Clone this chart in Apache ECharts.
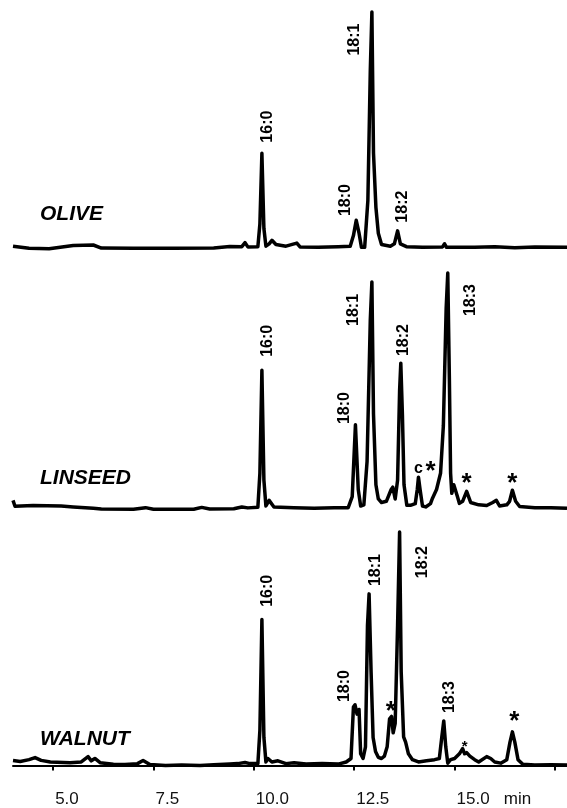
<!DOCTYPE html>
<html>
<head>
<meta charset="utf-8">
<script src="https://cdn.jsdelivr.net/npm/echarts@6/dist/echarts.min.js"></script>
<style>
  html, body { margin: 0; padding: 0; background: #fff; }
  #chart { width: 567px; height: 808px; }
</style>
</head>
<body>
<div id="chart"></div>
<script>
// retention time (min) and signal (0..100, tallest peak of each trace = 100)
const oliveTrace = [
  [4.00, 0.5], [4.40, -0.4], [4.90, -0.6], [5.50, 0.8], [6.00, 1.0], [6.20, -0.3],
  [7.00, -0.4], [8.00, -0.4], [9.00, -0.3], [9.40, 0.4], [9.70, 0.3], [9.78, 2.0],
  [9.85, 0.2], [10.10, 0.3], [10.15, 10], [10.20, 40], [10.25, 8], [10.30, 0.5],
  [10.38, 1.5], [10.45, 3.0], [10.55, 1.2], [10.80, 0.5], [11.07, 1.8], [11.15, 0.2],
  [11.60, 0.0], [12.10, 0.3], [12.40, 0.5], [12.48, 5], [12.55, 11.5], [12.62, 6],
  [12.68, 0.0], [12.76, 0.0], [12.84, 20], [12.90, 75], [12.94, 100], [12.98, 40],
  [13.04, 17], [13.10, 6], [13.18, 1.2], [13.40, 0.5], [13.50, 1.5], [13.58, 7],
  [13.65, 1.5], [13.80, 0.3], [14.20, 0.0], [14.70, 0.2], [14.75, 1.5], [14.80, 0.0],
  [15.50, 0.0], [16.00, 0.3], [16.50, -0.2], [17.00, 0.2], [17.80, 0.0]
]
const linseedTrace = [
  [4.00, 3.4], [4.05, 0.9], [4.50, 1.2], [5.20, 1.0], [5.50, 0.6], [6.00, 0.0],
  [6.20, -0.3], [7.00, -0.4], [7.30, 0.3], [7.50, -0.4], [8.50, -0.4], [8.70, 0.4],
  [8.90, -0.3], [9.50, -0.2], [9.70, 0.6], [9.85, 0.2], [10.10, 0.5], [10.15, 15],
  [10.20, 58.7], [10.25, 12], [10.30, 1.0], [10.38, 3.4], [10.50, 0.6], [11.00, 0.3],
  [11.50, 0.0], [12.00, 0.3], [12.35, 0.3], [12.45, 5], [12.53, 35.5], [12.60, 8],
  [12.66, 1.0], [12.74, 1.5], [12.82, 20], [12.90, 80], [12.94, 96.2], [12.98, 40],
  [13.04, 10], [13.10, 4], [13.18, 2.5], [13.30, 3], [13.42, 8], [13.46, 9],
  [13.52, 4], [13.58, 12], [13.63, 50], [13.66, 61.7], [13.70, 40], [13.74, 10],
  [13.81, 1.3], [13.90, 1.3], [14.02, 2], [14.07, 8], [14.10, 13.2], [14.14, 8],
  [14.20, 1.0], [14.28, 0.6], [14.40, 2], [14.45, 4.3], [14.55, 8], [14.65, 14.9],
  [14.72, 35], [14.79, 85], [14.83, 100], [14.87, 55], [14.90, 15], [14.93, 6.4],
  [14.98, 10], [15.02, 10.6], [15.07, 5], [15.12, 2.1], [15.20, 3], [15.30, 7.2],
  [15.40, 2.5], [15.60, 1.5], [15.80, 1.2], [15.95, 2.5], [16.04, 3.4], [16.12, 1.0],
  [16.30, 1.5], [16.37, 3], [16.44, 7.7], [16.52, 3], [16.62, 0.8], [17.00, 0.3],
  [17.40, 0.3], [17.80, 0.0]
]
const walnutTrace = [
  [4.00, 2.1], [4.18, 1.7], [4.40, 2.5], [4.55, 3.4], [4.70, 2.2], [4.93, 1.5],
  [5.42, 1.2], [5.70, 1.5], [5.87, 3.8], [5.95, 2.0], [6.04, 3.0], [6.17, 1.2],
  [6.50, 0.5], [6.79, 0.4], [7.10, 0.8], [7.24, 2.1], [7.41, 0.4], [7.80, 0.0],
  [8.20, 0.2], [8.66, 0.0], [9.00, 0.3], [9.40, 0.6], [9.60, 0.8], [9.78, 1.3],
  [9.90, 0.8], [10.10, 0.8], [10.15, 15], [10.20, 62.5], [10.25, 12], [10.30, 1.5],
  [10.35, 3], [10.45, 1.5], [10.60, 2], [10.80, 0.8], [11.00, 1.2], [11.30, 0.6],
  [11.70, 0.8], [12.10, 0.6], [12.30, 1.5], [12.42, 3], [12.48, 25], [12.52, 26],
  [12.57, 22], [12.62, 24], [12.66, 5], [12.72, 3], [12.78, 8], [12.83, 60],
  [12.87, 73.5], [12.92, 40], [12.97, 12], [13.03, 6], [13.10, 3.5], [13.18, 3],
  [13.25, 4], [13.32, 8], [13.38, 20], [13.43, 21], [13.47, 14], [13.52, 18],
  [13.58, 60], [13.63, 100], [13.67, 40], [13.73, 12.3], [13.78, 10], [13.85, 5],
  [13.95, 2.5], [14.10, 1.5], [14.30, 2], [14.50, 2.5], [14.62, 3], [14.68, 12],
  [14.73, 19.1], [14.78, 8], [14.83, 1], [14.90, 2.5], [15.00, 3], [15.12, 5],
  [15.20, 7.2], [15.25, 5], [15.30, 5.5], [15.38, 4], [15.42, 4.5], [15.50, 2.5],
  [15.60, 1.5], [15.80, 3.8], [15.90, 3.0], [16.00, 1.5], [16.15, 1.0], [16.30, 2.5],
  [16.38, 10], [16.44, 14.4], [16.50, 10], [16.58, 2.5], [16.70, 0.5], [17.00, 0.2],
  [17.40, 0.3], [17.80, 0.2]
]

// peak labels: [time, signal, text]
const oliveLabels = [
  [10.35, 51.3, '16:0'], [12.29, 20.1, '18:0'], [12.50, 88.3, '18:1'], [13.71, 17.3, '18:2']
]
const linseedLabels = [
  [10.35, 71.2, '16:0'], [12.26, 42.6, '18:0'], [12.49, 84.3, '18:1'], [13.73, 71.5, '18:2'],
  [15.40, 88.5, '18:3'], [14.10, 17.0, 'c'], [14.40, 17.9, '*'], [15.30, 12.8, '*'],
  [16.44, 12.8, '*']
]
const walnutLabels = [
  [10.35, 74.8, '16:0'], [12.26, 34.0, '18:0'], [13.03, 83.7, '18:1'], [13.41, 25.5, '*'],
  [14.20, 87.1, '18:2'], [14.88, 29.3, '18:3'], [16.49, 21.2, '*']
]
const walnutMinorLabels = [
  [15.25, 9.3, '*']
]

const sampleNames = ['OLIVE', 'LINSEED', 'WALNUT']
const timeTicks = [5, 7.5, 10, 12.5, 15, 17.5]
const tickLabels = ['5.0', '7.5', '10.0', '12.5', '15.0   min', '']

const fontFamily = 'Liberation Sans, Arial, Helvetica, sans-serif'
const myChart = echarts.init(document.getElementById('chart'))

const gridTops = [12, 273, 532]
const traces = [oliveTrace, linseedTrace, walnutTrace]
const labels = [oliveLabels, linseedLabels, walnutLabels]

function labelItem(l, small) {
  const star = l[2] === '*'
  const flat = star || l[2] === 'c'
  return {
    value: [l[0], l[1]],
    name: l[2],
    label: {
      rotate: flat ? 0 : 90,
      fontSize: star ? (small ? 15 : 26) : 16,
      offset: star ? [0, small ? 3 : 6] : [0, 0]
    }
  }
}

let grids = []
let xAxes = []
let yAxes = []
let series = []
gridTops.forEach((top, i) => {
  grids.push({ left: 13, right: 0, top: top, height: 253 })
  const last = i === gridTops.length - 1
  xAxes.push({
    gridIndex: i,
    type: 'value',
    min: 4,
    max: 17.8,
    show: last,
    splitLine: { show: false },
    axisLine: { show: true, lineStyle: { color: '#000', width: 2 } },
    axisTick: {
      show: true,
      customValues: timeTicks,
      length: 5,
      lineStyle: { color: '#000', width: 2 }
    },
    axisLabel: {
      show: true,
      customValues: timeTicks,
      align: 'left',
      margin: 8,
      padding: [0, 0, 0, 2],
      color: '#111',
      fontSize: 17,
      fontFamily: fontFamily,
      formatter: function(v) {
        const k = timeTicks.indexOf(v)
        return k >= 0 ? tickLabels[k] : ''
      }
    }
  })
  yAxes.push({
    gridIndex: i,
    type: 'value',
    min: -7.5,
    max: 100,
    show: false
  })
  series.push({
    type: 'line',
    xAxisIndex: i,
    yAxisIndex: i,
    data: traces[i],
    symbol: 'none',
    clip: false,
    lineStyle: { color: '#000', width: 3.5, join: 'round' }
  })
  let pts = labels[i].map(l => labelItem(l, false))
  if (last) pts = pts.concat(walnutMinorLabels.map(l => labelItem(l, true)))
  series.push({
    type: 'scatter',
    xAxisIndex: i,
    yAxisIndex: i,
    symbolSize: 0,
    itemStyle: { opacity: 1, color: '#000' },
    data: pts,
    label: {
      show: true,
      position: 'inside',
      formatter: '{b}',
      color: '#000',
      opacity: 1,
      textBorderWidth: 0,
      fontWeight: 'bold',
      fontFamily: fontFamily
    }
  })
})

const nameY = [215, 479, 739.5]
myChart.setOption({
  animation: false,
  backgroundColor: '#fff',
  grid: grids,
  xAxis: xAxes,
  yAxis: yAxes,
  series: series,
  graphic: sampleNames.map((n, i) => ({
    type: 'text',
    left: 40,
    top: nameY[i] - 11,
    style: {
      text: n,
      fill: '#000',
      font: 'italic bold 21px ' + fontFamily
    }
  }))
})
</script>
</body>
</html>
